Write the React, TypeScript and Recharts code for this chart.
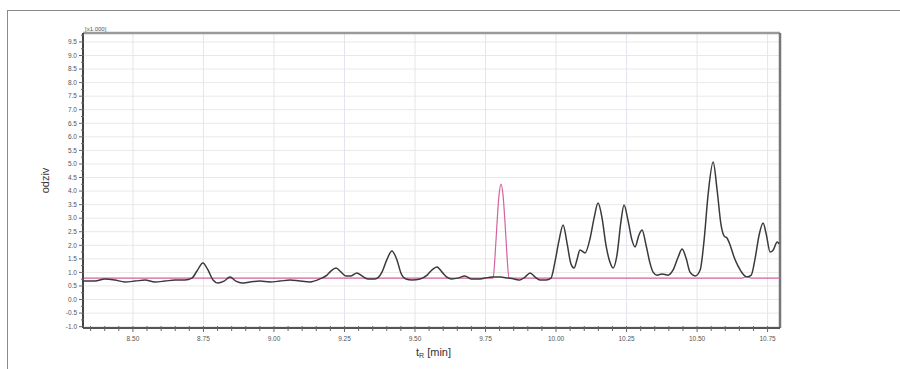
import { Label, Line, LineChart, ReferenceLine, XAxis, YAxis } from "recharts";

// retention time [min] and response of the sample trace (black)
const sampleTimes = [
  8.323, 8.365, 8.401, 8.436, 8.472, 8.507, 8.543, 8.578, 8.613, 8.649, 8.684, 8.709, 8.727, 8.748,
  8.766, 8.784, 8.801, 8.823, 8.844, 8.865, 8.887, 8.915, 8.95, 8.986, 9.021, 9.057, 9.092, 9.128,
  9.163, 9.188, 9.202, 9.22, 9.238, 9.255, 9.273, 9.294, 9.312, 9.333, 9.358, 9.383, 9.401, 9.418,
  9.436, 9.45, 9.468, 9.489, 9.518, 9.543, 9.56, 9.578, 9.596, 9.613, 9.631, 9.652, 9.677, 9.699,
  9.723, 9.748, 9.773, 9.801, 9.83, 9.851, 9.872, 9.89, 9.908, 9.926, 9.943, 9.965, 9.982, 9.996,
  10.011, 10.025, 10.039, 10.053, 10.064, 10.074, 10.085, 10.103, 10.121, 10.135, 10.149, 10.163,
  10.177, 10.191, 10.202, 10.216, 10.23, 10.241, 10.255, 10.269, 10.28, 10.294, 10.305, 10.319,
  10.333, 10.344, 10.358, 10.376, 10.397, 10.415, 10.433, 10.447, 10.461, 10.475, 10.493, 10.511,
  10.525, 10.539, 10.557, 10.571, 10.585, 10.596, 10.606, 10.617, 10.631, 10.645, 10.66, 10.677,
  10.692, 10.706, 10.72, 10.734, 10.745, 10.759, 10.77, 10.784, 10.791,
];
const sampleResponse = [
  0.68, 0.68, 0.76, 0.72, 0.65, 0.68, 0.72, 0.65, 0.68, 0.72, 0.72, 0.79, 1.05, 1.35,
  1.09, 0.72, 0.61, 0.68, 0.83, 0.68, 0.61, 0.65, 0.68, 0.65, 0.68, 0.72, 0.68, 0.65,
  0.76, 0.9, 1.05, 1.16, 1.01, 0.87, 0.87, 0.98, 0.87, 0.76, 0.76, 1.01, 1.49, 1.79,
  1.46, 0.98, 0.76, 0.72, 0.76, 0.9, 1.09, 1.2, 1.01, 0.83, 0.76, 0.79, 0.87, 0.76,
  0.76, 0.79, 0.83, 0.83, 0.79, 0.76, 0.72, 0.83, 0.98, 0.83, 0.72, 0.72, 0.79, 1.38,
  2.2, 2.75, 2.08, 1.31, 1.16, 1.46, 1.83, 1.72, 2.27, 3.01, 3.56, 3.01,
  2.01, 1.38, 1.16, 1.64, 2.86, 3.49, 2.93, 2.2, 1.94, 2.38, 2.56, 2.01,
  1.35, 1.01, 0.9, 0.94, 0.9, 1.09, 1.57, 1.86, 1.53, 1.01, 0.87, 1.09,
  2.2, 3.86, 5.07, 4.04, 2.75, 2.34, 2.27, 2.01, 1.57, 1.24, 0.98, 0.83,
  0.9, 1.53, 2.38, 2.82, 2.42, 1.75, 1.83, 2.12, 2.05,
];

// standard trace (pink)
const standardTimes = [
  8.323, 9.777, 9.784, 9.791, 9.798, 9.805, 9.812, 9.819, 9.826, 9.833, 10.66, 10.677, 10.692, 10.794,
];
const standardResponse = [
  0.79, 0.79, 1.64, 2.86, 3.86, 4.26, 3.86, 2.86, 1.64, 0.79, 0.79, 0.85, 0.79, 0.79,
];

const xMajorTicks = [8.5, 8.75, 9.0, 9.25, 9.5, 9.75, 10.0, 10.25, 10.5, 10.75];
const yMajorTicks = [
  -1.0, -0.5, 0.0, 0.5, 1.0, 1.5, 2.0, 2.5, 3.0, 3.5, 4.0, 4.5, 5.0, 5.5, 6.0, 6.5, 7.0, 7.5, 8.0,
  8.5, 9.0, 9.5,
];

const X_DOMAIN: [number, number] = [8.323, 10.794];
const Y_DOMAIN: [number, number] = [-1.05, 9.83];

// minor tick marks: 5 per labelled x step, 2 per labelled y step
const xTicks: number[] = [];
for (let i = 0; i < xMajorTicks.length; i++) {
  for (let k = -3; k < 2; k++) {
    const t = +(xMajorTicks[i] + k * 0.05).toFixed(2);
    if (t > X_DOMAIN[0] && t <= X_DOMAIN[1] && !xTicks.includes(t)) xTicks.push(t);
  }
}
const yTicks: number[] = [];
yMajorTicks.forEach((v) => {
  yTicks.push(v);
  if (v + 0.25 < Y_DOMAIN[1]) yTicks.push(v + 0.25);
});

const sampleData = sampleTimes.map((t, i) => ({ t, v: sampleResponse[i] }));
const standardData = standardTimes.map((t, i) => ({ t, v: standardResponse[i] }));

const isOn = (v: number, list: number[]) => list.some((m) => Math.abs(m - v) < 1e-6);

const XTick = (props: any) => {
  const { x, y, payload } = props;
  const major = isOn(payload.value, xMajorTicks);
  return (
    <g>
      <line x1={x} x2={x} y1={y - 2} y2={y + (major ? 4 : 3)} stroke="#666" strokeWidth={1} />
      {major && (
        <text x={x} y={y + 13} textAnchor="middle" fontSize={6.5} fill="#555">
          {payload.value.toFixed(2)}
        </text>
      )}
    </g>
  );
};

const YTick = (props: any) => {
  const { x, y, payload } = props;
  const major = isOn(payload.value, yMajorTicks);
  return (
    <g>
      <line x1={x - (major ? 4 : 2)} x2={x + 1} y1={y} y2={y} stroke="#666" strokeWidth={1} />
      {major && (
        <text x={x - 6} y={y + 2.3} textAnchor="end" fontSize={6.5} fill="#555">
          {payload.value.toFixed(1)}
        </text>
      )}
    </g>
  );
};

export default function App() {
  return (
    <div
      style={{
        position: "absolute",
        left: 0,
        top: 0,
        width: 900,
        height: 369,
        overflow: "hidden",
        background: "#fff",
        fontFamily: "'Liberation Sans', Arial, sans-serif",
      }}
    >
      <div
        style={{
          position: "absolute",
          left: 7,
          top: 10,
          width: 900,
          height: 400,
          borderLeft: "1.5px solid #8a8a8a",
          borderTop: "1.5px solid #8a8a8a",
        }}
      />
      <div
        style={{ position: "absolute", left: 85, top: 26, fontSize: 6, color: "#555" }}
      >
        [x1.000]
      </div>
      <LineChart
        width={900}
        height={369}
        margin={{ top: 33, right: 120, bottom: 11, left: 43 }}
        style={{ position: "absolute", left: 0, top: 0 }}
      >
        <XAxis
          type="number"
          dataKey="t"
          domain={X_DOMAIN}
          allowDataOverflow
          ticks={xTicks}
          interval={0}
          tickSize={0}
          tickMargin={0}
          tickLine={false}
          tick={XTick}
          height={30}
          stroke="#555"
          strokeWidth={2}
        >
          <Label
            content={(p: any) => {
              const vb = p.viewBox;
              return (
                <text
                  x={vb.x + vb.width / 2 + 2}
                  y={vb.y + 28}
                  textAnchor="middle"
                  fontSize={11}
                  fill="#333"
                >
                  t
                  <tspan fontSize={7} dy={2}>
                    R
                  </tspan>
                  <tspan dy={-2}> [min]</tspan>
                </text>
              );
            }}
          />
        </XAxis>
        <YAxis
          type="number"
          domain={Y_DOMAIN}
          allowDataOverflow
          ticks={yTicks}
          interval={0}
          tickSize={0}
          tickMargin={0}
          tickLine={false}
          tick={YTick}
          width={40}
          stroke="#444"
          strokeWidth={2}
        >
          <Label
            content={(p: any) => {
              const vb = p.viewBox;
              const cx = vb.x + 6;
              const cy = vb.y + vb.height / 2;
              return (
                <text
                  x={cx}
                  y={cy}
                  transform={`rotate(-90 ${cx} ${cy})`}
                  textAnchor="middle"
                  fontSize={11}
                  fill="#333"
                >
                  odziv
                </text>
              );
            }}
          />
        </YAxis>
        {yMajorTicks.map((v) => (
          <ReferenceLine key={`h${v}`} y={v} stroke="#ebe7e7" strokeWidth={1} />
        ))}
        {xMajorTicks.map((t) => (
          <ReferenceLine key={`v${t}`} x={t} stroke="#e2e5ec" strokeWidth={1} />
        ))}
        <ReferenceLine y={Y_DOMAIN[1]} stroke="#9a9a9a" strokeWidth={2.5} />
        <ReferenceLine x={X_DOMAIN[1]} stroke="#777" strokeWidth={2.5} />
        <Line
          data={standardData}
          dataKey="v"
          type="monotone"
          stroke="#d2639c"
          strokeWidth={1.2}
          dot={false}
          isAnimationActive={false}
        />
        <Line
          data={sampleData}
          dataKey="v"
          type="monotone"
          stroke="#3a3a3a"
          strokeWidth={1.5}
          dot={false}
          isAnimationActive={false}
        />
      </LineChart>
    </div>
  );
}
